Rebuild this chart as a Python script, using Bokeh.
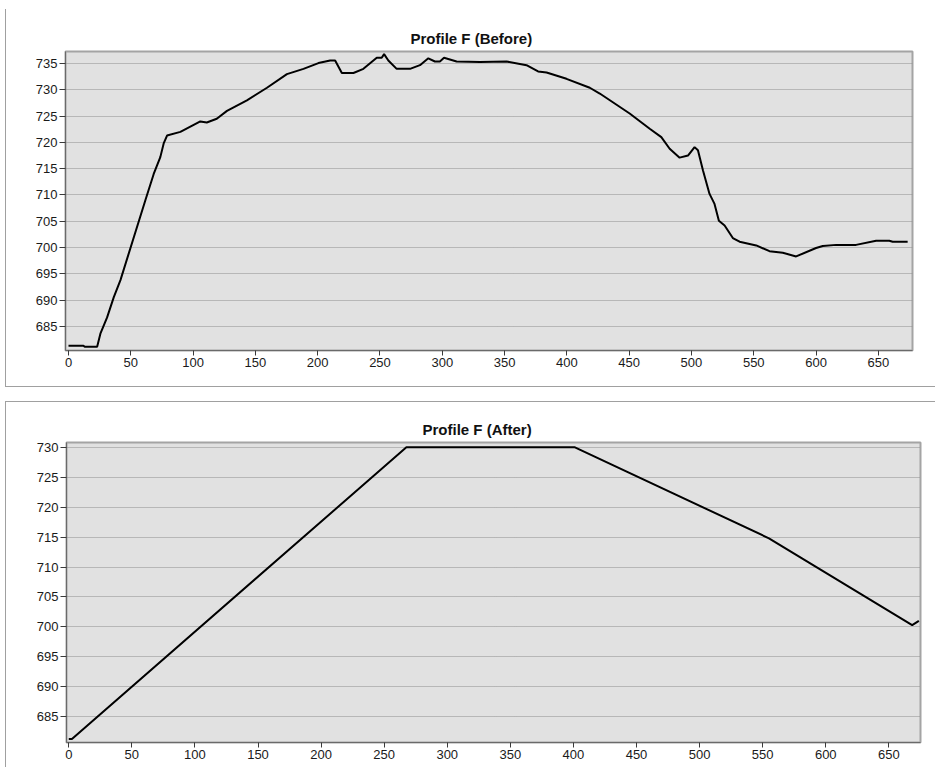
from bokeh.plotting import figure
from bokeh.layouts import column, row
from bokeh.models import FixedTicker, Range1d, ColumnDataSource
from bokeh.embed import file_html
from bokeh.resources import INLINE

# ---------------- data ----------------
before_dist = [0, 12, 13, 23, 25.6, 31, 36.3, 41.7, 61.7, 68.4, 73.7, 76.4, 79.1, 89.8,
               105.8, 111, 119, 127.2, 143.2, 159.3, 175.3, 188.6, 200.6, 210, 214,
               219.4, 228.7, 236.7, 247.4, 251.4, 253.3, 256.7, 263.4, 274.1, 282.1,
               288.8, 294.1, 298.1, 301.4, 311.5, 330.2, 351.6, 367.6, 376.9, 383.7,
               399.7, 418.4, 426.4, 450.4, 466.5, 475.8, 482.5, 490.5, 497.2, 502.5,
               505.2, 509.2, 514.5, 518.5, 522, 526.6, 533.2, 538.6, 552, 562.6,
               573.3, 584, 600, 605.4, 616.1, 632.1, 648.2, 658.8, 661.5, 673.5]
before_elev = [681.3, 681.3, 681.1, 681.1, 683.6, 686.7, 690.5, 693.8, 709, 714, 717.2,
               719.8, 721.3, 722, 724, 723.8, 724.5, 726, 728, 730.4, 733, 734, 735.1,
               735.6, 735.6, 733.2, 733.2, 734, 736.1, 736.1, 736.8, 735.6, 734, 734,
               734.7, 736, 735.4, 735.4, 736.1, 735.4, 735.3, 735.4, 734.7, 733.5,
               733.3, 732.1, 730.4, 729.3, 725.5, 722.6, 721, 718.8, 717.1, 717.5,
               719.1, 718.5, 714.7, 710.2, 708.3, 705.1, 704.2, 701.8, 701.1, 700.4,
               699.3, 699, 698.3, 699.9, 700.3, 700.5, 700.5, 701.3, 701.3, 701.1, 701.1]

after_dist = [0, 2.5, 267.6, 401.2, 555, 668.5, 673.8]
after_elev = [681.3, 681.3, 730, 730, 714.8, 700.3, 701.0]

x_ticks = [0, 50, 100, 150, 200, 250, 300, 350, 400, 450, 500, 550, 600, 650]
before_y_ticks = [685, 690, 695, 700, 705, 710, 715, 720, 725, 730, 735]
after_y_ticks = [685, 690, 695, 700, 705, 710, 715, 720, 725, 730]

titles = ["Profile F (Before)", "Profile F (After)"]

TICK_FONT = "Liberation Sans"
TITLE_FONT = "Liberation Sans"
PANEL_LINE = "1px solid #a0a0a0"


def make_chart(title, xs, ys, xr, yr, yticks, width, height,
               mbl, mbr, mbt, mbb, title_offset):
    p = figure(width=width, height=height,
               x_range=Range1d(*xr), y_range=Range1d(*yr),
               output_backend="svg", toolbar_location=None,
               min_border_left=mbl, min_border_right=mbr,
               min_border_top=mbt, min_border_bottom=mbb)
    p.background_fill_color = "#e1e1e1"
    p.border_fill_color = "white"
    p.outline_line_color = "#a4a4a4"
    p.outline_line_width = 2

    p.title.text = title
    p.title.align = "left"
    p.title.offset = title_offset
    p.title.standoff = 9
    p.title.text_font = TITLE_FONT
    p.title.text_font_style = "bold"
    p.title.text_font_size = "15px"
    p.title.text_color = "#111111"

    for ax, ticks, tout in ((p.xaxis[0], x_ticks, 5), (p.yaxis[0], yticks, 6)):
        ax.ticker = FixedTicker(ticks=ticks)
        ax.major_tick_out = tout
        ax.major_tick_in = 0
        ax.minor_tick_line_color = None
        ax.axis_line_color = "#6a6a6a"
        ax.major_tick_line_color = "#3a3a3a"
        ax.major_label_standoff = 2
        ax.major_label_text_font = TICK_FONT
        ax.major_label_text_font_size = "13px"
        ax.major_label_text_color = "#1a1a1a"

    p.xgrid.visible = False
    p.ygrid.grid_line_color = "#8c8c8c"
    p.ygrid.grid_line_dash = "1 1"
    p.ygrid.grid_line_width = 1

    src = ColumnDataSource(dict(x=xs, y=ys))
    p.line("x", "y", source=src, line_color="black", line_width=2)
    return p


p1 = make_chart(titles[0], before_dist, before_elev, (-2.4, 677.4), (680.4, 737.3),
                before_y_ticks, 930, 378, 59, 24, 42, 37, 345)
p2 = make_chart(titles[1], after_dist, after_elev, (-1.8, 675.1), (680.7, 730.8),
                after_y_ticks, 930, 366, 60, 16, 40, 26, 356)

# outer panel frames drawn as CSS borders of the figure elements
p1.margin = (9, 0, 0, 5)
p1.styles = {"border-left": PANEL_LINE, "border-bottom": PANEL_LINE}
p2.margin = (14, 0, 0, 5)
p2.styles = {"border-left": PANEL_LINE, "border-top": PANEL_LINE}

# wrap each chart separately so their plot frames are laid out independently
layout = column(row(p1), row(p2), spacing=0)

open("out.html", "w").write(file_html(layout, INLINE))
